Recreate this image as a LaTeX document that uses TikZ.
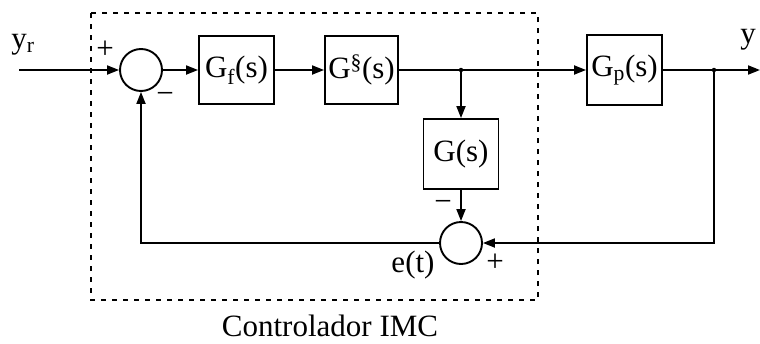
\documentclass[tikz,border=0pt]{standalone}
\usepackage{fontspec}
\setmainfont{Liberation Serif}
\usetikzlibrary{arrows.meta}
\begin{document}
\begin{tikzpicture}[x=1pt,y=-1pt,
  font=\fontsize{31}{35}\selectfont,
  line width=1.9pt,
  >={Triangle[length=12pt,width=9pt]},
  blockbox/.style={draw,rectangle,inner sep=0pt,minimum width=75pt,minimum height=68pt},
  sumnode/.style={draw,circle,inner sep=0pt,minimum size=42pt},
  dotnode/.style={circle,fill,inner sep=0pt,minimum size=4.5pt},
  lbl/.style={inner sep=0pt},
  ctrlbox/.style={draw,dash pattern=on 5pt off 6pt,line width=1.8pt}]
\useasboundingbox (0,0) rectangle (760,343);
% dashed controller boundary
\draw[ctrlbox] (91,13) rectangle (538,300);
% nodes
\coordinate (in) at (19,70);
\node[sumnode] (s1) at (141,70) {};
\node[blockbox] (gf) at (236.5,70) {G\textsubscript{f}(s)};
\node[blockbox,minimum width=73pt] (gm) at (361.5,70) {G\textsuperscript{§}(s)};
\node[dotnode] (j1) at (461,70) {};
\node[blockbox,minimum height=70pt] (gp) at (624.5,70) {G\textsubscript{p}(s)};
\node[dotnode] (j2) at (714,70) {};
\coordinate (out) at (760,70);
\node[blockbox,minimum height=70pt] (g) at (461,154) {G(s)};
\node[sumnode] (s2) at (461,243) {};
\coordinate (c1) at (714,243);
\coordinate (c2) at (141,243);
% connectors
\draw[->] (in) -- (s1);
\draw[->] (s1) -- (gf);
\draw[->] (gf) -- (gm);
\draw (gm) -- (j1.center);
\draw[->] (j1.center) -- (gp);
\draw[->] (j1.center) -- (g);
\draw[->] (g) -- (s2);
\draw (gp) -- (j2.center);
\draw[->] (j2.center) -- (out);
\draw[->] (j2.center) -- (c1) -- (s2);
\draw[->] (s2) -- (c2) -- (s1);
% labels
\node[lbl] (lyr) at (23,45) {y\textsubscript{r}};
\node[lbl] (lp1) at (105,50) {+};
\node[lbl] (lm1) at (165,98) {\textminus};
\node[lbl] (ly) at (748,40) {y};
\node[lbl] (lm2) at (443,206) {\textminus};
\node[lbl] (lp2) at (495,263) {+};
\node[lbl] (le) at (413,265) {e(t)};
\node[lbl] (lc) at (330,326) {Controlador IMC};
\end{tikzpicture}
\end{document}
